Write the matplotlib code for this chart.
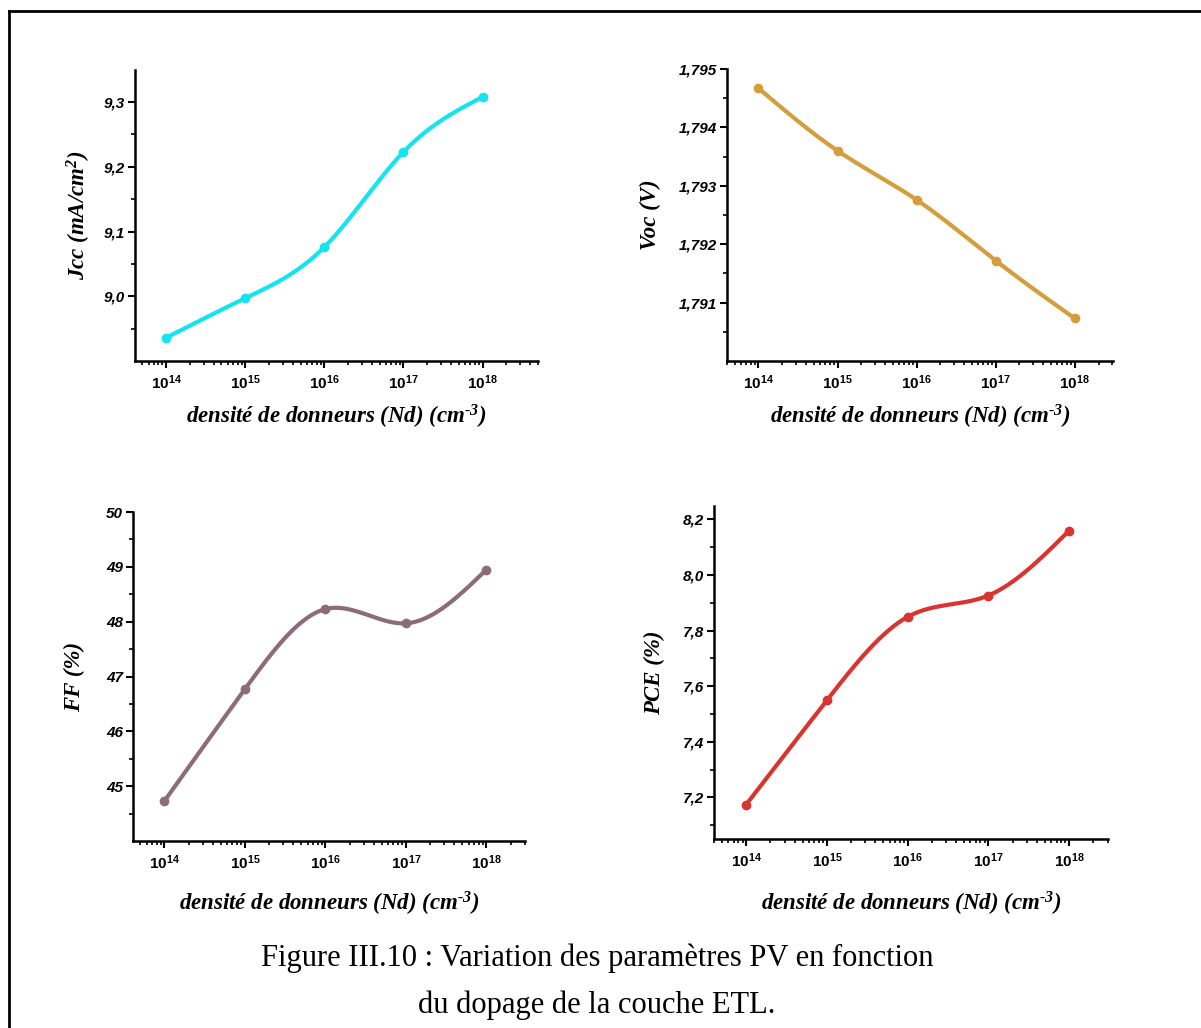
import numpy as np
import matplotlib
matplotlib.use('Agg')
import matplotlib.pyplot as plt
from matplotlib.lines import Line2D
from matplotlib.ticker import LogLocator, FixedLocator, NullFormatter
from matplotlib.font_manager import FontProperties

plt.rcParams['mathtext.fontset'] = 'custom'
plt.rcParams['mathtext.rm'] = 'Liberation Serif:bold:italic'
plt.rcParams['mathtext.it'] = 'Liberation Serif:bold:italic'
plt.rcParams['mathtext.bf'] = 'Liberation Sans:bold'

# données : densité de donneurs (cm-3)
nd = [1e14, 1e15, 1e16, 1e17, 1e18]
nd_ticks = [1e14, 1e15, 1e16, 1e17, 1e18]
nd_labels = [r'$\mathbf{10^{14}}$', r'$\mathbf{10^{15}}$', r'$\mathbf{10^{16}}$',
             r'$\mathbf{10^{17}}$', r'$\mathbf{10^{18}}$']

jcc = [8.936, 8.997, 9.076, 9.223, 9.308]
voc = [1.79467, 1.79360, 1.79276, 1.79172, 1.79073]
ff = [44.73, 46.77, 48.23, 47.97, 48.95]
pce = [7.174, 7.549, 7.849, 7.926, 8.159]

jcc_ticks = [9.0, 9.1, 9.2, 9.3]
voc_ticks = [1.791, 1.792, 1.793, 1.794, 1.795]
ff_ticks = [45, 46, 47, 48, 49, 50]
pce_ticks = [7.2, 7.4, 7.6, 7.8, 8.0, 8.2]

W, H = 1201, 1028
fig = plt.figure(figsize=(W / 100, H / 100), dpi=100)

fp_ytick = FontProperties(family='Liberation Sans', weight='bold', style='italic', size=11)
fp_lab = FontProperties(family='Liberation Serif', weight='bold', style='italic', size=16.5)


def spline(xs, ys, n=300):
    # spline cubique naturelle (lissage du trait, comme Origin)
    xs = np.asarray(xs, float)
    ys = np.asarray(ys, float)
    k = len(xs)
    h = np.diff(xs)
    A = np.zeros((k, k))
    b = np.zeros(k)
    A[0, 0] = A[-1, -1] = 1
    for i in range(1, k - 1):
        A[i, i - 1] = h[i - 1]
        A[i, i] = 2 * (h[i - 1] + h[i])
        A[i, i + 1] = h[i]
        b[i] = 6 * ((ys[i + 1] - ys[i]) / h[i] - (ys[i] - ys[i - 1]) / h[i - 1])
    M = np.linalg.solve(A, b)
    t = np.linspace(xs[0], xs[-1], n)
    idx = np.clip(np.searchsorted(xs, t) - 1, 0, k - 2)
    x0, x1 = xs[idx], xs[idx + 1]
    hh = x1 - x0
    y = (M[idx] * (x1 - t) ** 3 + M[idx + 1] * (t - x0) ** 3) / (6 * hh) \
        + (ys[idx] / hh - M[idx] * hh / 6) * (x1 - t) \
        + (ys[idx + 1] / hh - M[idx + 1] * hh / 6) * (t - x0)
    return t, y


def panel(px, y, color, yticks, yminor, ylim, xlim, ylabel, fmt, ylab_dx, xpad):
    l, r, t, b = px
    ax = fig.add_axes([l / W, 1 - b / H, (r - l) / W, (b - t) / H])
    lx, sy = spline(np.log10(nd), y)
    ax.plot(10 ** lx, sy, color=color, lw=3, solid_capstyle='round')
    ax.plot(nd, y, 'o', color=color, ms=6)
    ax.set_xscale('log')
    ax.set_xlim(10 ** xlim[0], 10 ** xlim[1])
    ax.set_ylim(*ylim)
    for s in ['top', 'right']:
        ax.spines[s].set_visible(False)
    for s in ['left', 'bottom']:
        ax.spines[s].set_linewidth(1.8)
    ax.set_xticks(nd_ticks)
    ax.set_xticklabels(nd_labels, fontsize=11)
    ax.xaxis.set_minor_locator(LogLocator(base=10, subs=np.arange(2, 10), numticks=20))
    ax.xaxis.set_minor_formatter(NullFormatter())
    ax.set_yticks(yticks)
    ax.set_yticklabels([fmt.format(v).replace('.', ',') for v in yticks], fontproperties=fp_ytick)
    ax.yaxis.set_minor_locator(FixedLocator(yminor))
    ax.tick_params(which='major', direction='out', length=5, width=1.5, pad=2)
    ax.tick_params(which='minor', direction='out', length=3, width=1.2)
    ax.tick_params(axis='x', which='major', pad=4)
    ax.set_xlabel(r'densité de donneurs (Nd) (cm$^{\text{-}3}$)', fontproperties=fp_lab, labelpad=xpad)
    ax.set_ylabel(ylabel, fontproperties=fp_lab)
    ax.yaxis.label.set_va('center')
    ax.yaxis.set_label_coords(-ylab_dx / (r - l), 0.5)
    return ax


panel((135, 538, 70, 361), jcc, '#14E4F0', jcc_ticks,
      [8.95, 9.05, 9.15, 9.25], (8.9, 9.3496), (13.607, 18.70),
      'Jcc (mA/cm$^{2}$)', '{:.1f}', 56, 8)
panel((727, 1113, 69, 361), voc, '#D49E3C', voc_ticks,
      [1.7905, 1.7915, 1.7925, 1.7935, 1.7945], (1.790, 1.795), (13.602, 18.484),
      'Voc (V)', '{:.3f}', 77, 8)
panel((133, 525, 512, 841), ff, '#8C6D76', ff_ticks,
      [44.5, 45.5, 46.5, 47.5, 48.5, 49.5], (44, 50), (13.61, 18.479),
      'FF (%)', '{:.0f}', 59, 13)
panel((714, 1108, 506, 839), pce, '#DA3431', pce_ticks,
      [7.1, 7.3, 7.5, 7.7, 7.9, 8.1], (7.05, 8.248), (13.601, 18.483),
      'PCE (%)', '{:.1f}', 60, 14)

# cadre de la page
fig.add_artist(Line2D([9 / W, 9 / W], [0, 1 - 11 / H], transform=fig.transFigure, color='black', lw=2))
fig.add_artist(Line2D([9 / W, 1], [1 - 11 / H, 1 - 11 / H], transform=fig.transFigure, color='black', lw=2))

fig.text(597 / W, 1 - 958 / H, 'Figure III.10 : Variation des paramètres PV en fonction',
         ha='center', va='center', family='Liberation Serif', size=22)
fig.text(597 / W, 1 - 1005 / H, 'du dopage de la couche ETL.',
         ha='center', va='center', family='Liberation Serif', size=22)

fig.savefig('out.png', dpi=100, facecolor='white')
